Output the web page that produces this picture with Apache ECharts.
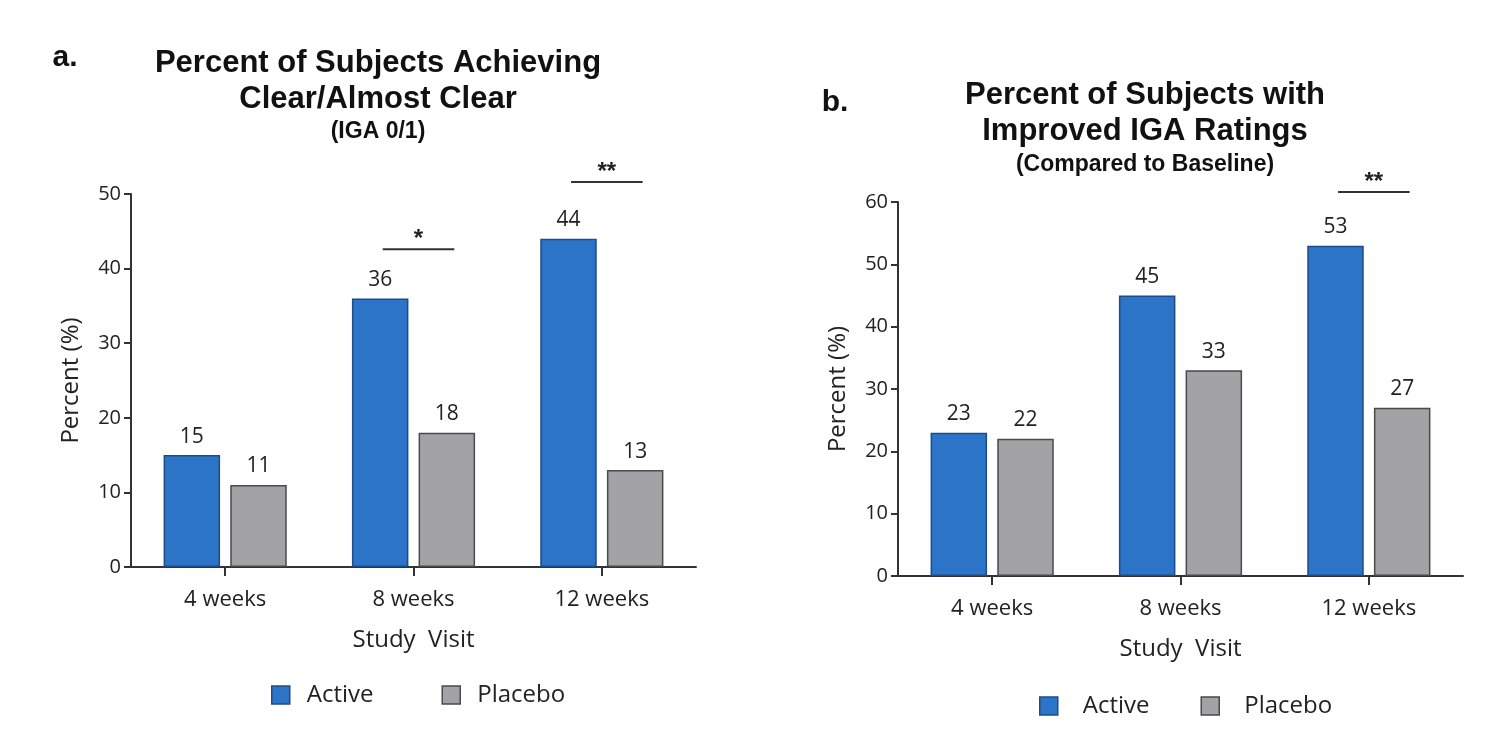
<!DOCTYPE html>
<html>
<head>
<meta charset="utf-8">
<script src="https://cdn.jsdelivr.net/npm/echarts@6/dist/echarts.min.js"></script>
<style>
html,body{margin:0;padding:0;background:#fff;}
#chart{width:1512px;height:750px;}
</style>
</head>
<body>
<div id="chart"></div>
<script>
// ---- data ----
const categories = ['4 weeks', '8 weeks', '12 weeks'];
const activeA = [15, 36, 44];
const placeboA = [11, 18, 13];
const activeB = [23, 45, 53];
const placeboB = [22, 33, 27];
const yTicksA = [0, 10, 20, 30, 40, 50];
const yTicksB = [0, 10, 20, 30, 40, 50, 60];
// significance brackets
const sigCatsA = [1, 2];
const sigLevelsA = [42.6, 51.6];
const sigMarksA = ['*', '**'];
const sigCatsB = [2];
const sigLevelsB = [61.6];
const sigMarksB = ['**'];

const BLUE = '#2b74c8', BLUE_B = '#1f4c86';
const GRAY = '#a3a3a7', GRAY_B = '#4a4a4a';
const AX = '#333333';
const LBL_FONT = '"Open Sans", "Noto Sans", sans-serif';
const TTL_FONT = '"Liberation Sans", Arial, sans-serif';

const chart = echarts.init(document.getElementById('chart'), null, {renderer: 'canvas'});

function yAxis(gridIndex, ticks) {
  return {
    type: 'value', gridIndex: gridIndex,
    min: ticks[0], max: ticks[ticks.length - 1], interval: ticks[1] - ticks[0],
    name: 'Percent (%)', nameLocation: 'middle', nameGap: 48, nameRotate: 90,
    nameTextStyle: {fontFamily: LBL_FONT, fontSize: 24, color: '#222'},
    axisLine: {show: true, lineStyle: {color: AX, width: 2}},
    axisTick: {show: true, length: 7, lineStyle: {color: AX, width: 2}},
    axisLabel: {fontFamily: LBL_FONT, fontSize: 20, color: '#222', margin: 10},
    splitLine: {show: false}
  };
}
function xAxis(gridIndex) {
  return {
    type: 'category', gridIndex: gridIndex, data: categories,
    name: 'Study  Visit', nameLocation: 'middle', nameGap: 61,
    nameTextStyle: {fontFamily: LBL_FONT, fontSize: 24, color: '#222'},
    axisLine: {show: true, lineStyle: {color: AX, width: 2}},
    axisTick: {show: true, alignWithLabel: true, length: 9, lineStyle: {color: AX, width: 2}},
    axisLabel: {fontFamily: LBL_FONT, fontSize: 22, color: '#222', margin: 22},
    splitLine: {show: false}
  };
}
function barSeries(name, data, idx, color, border) {
  return {
    type: 'bar', name: name, data: data, xAxisIndex: idx, yAxisIndex: idx,
    barWidth: '30%', barGap: '18%',
    itemStyle: {color: color, borderColor: border, borderWidth: 1.5},
    label: {show: true, position: 'top', distance: 8, fontFamily: LBL_FONT, fontSize: 21, color: '#222'},
    emphasis: {disabled: true}
  };
}
function sigSeries(idx, cats, levels, marks) {
  return {
    type: 'custom', xAxisIndex: idx, yAxisIndex: idx, clip: false,
    data: cats.map((c, i) => [c, levels[i]]),
    renderItem: function (params, api) {
      const c = api.coord([api.value(0), api.value(1)]);
      const band = api.size([1, 0])[0];
      const half = band * 0.19;
      const cx = c[0] + 5;
      return {
        type: 'group',
        children: [
          {type: 'line', shape: {x1: cx - half, y1: c[1], x2: cx + half, y2: c[1]},
           style: {stroke: AX, lineWidth: 2}},
          {type: 'text', style: {text: marks[params.dataIndex], x: cx, y: c[1] + 2,
           textAlign: 'center', textVerticalAlign: 'bottom',
           font: 'bold 24px ' + TTL_FONT, fill: '#222'}}
        ]
      };
    }
  };
}
function txt(x, y, text, size, weight) {
  return {type: 'text', x: x, y: y,
    style: {text: text, x: 0, y: 0, textAlign: 'center', textVerticalAlign: 'middle',
      font: (weight || 'bold') + ' ' + size + 'px ' + TTL_FONT, fill: '#111'}};
}

const option = {
  backgroundColor: '#ffffff',
  animation: false,
  grid: [
    {left: 131, top: 194, width: 565, height: 373, containLabel: false},
    {left: 898, top: 202, width: 565, height: 374, containLabel: false}
  ],
  xAxis: [xAxis(0), xAxis(1)],
  yAxis: [yAxis(0, yTicksA), yAxis(1, yTicksB)],
  legend: [
    {left: 271, top: 683, padding: 0, itemWidth: 18, itemHeight: 18, itemGap: 68, icon: 'rect',
     data: ['Active', 'Placebo'], selectedMode: false,
     itemStyle: {borderWidth: 1.5},
     textStyle: {fontFamily: LBL_FONT, fontSize: 24, color: '#222', padding: [0, 0, 0, 12]}},
    {left: 1039, top: 694, padding: 0, itemWidth: 18, itemHeight: 18, itemGap: 51, icon: 'rect',
     data: ['Active', 'Placebo'], selectedMode: false,
     itemStyle: {borderWidth: 1.5},
     textStyle: {fontFamily: LBL_FONT, fontSize: 24, color: '#222', padding: [0, 0, 0, 20]}}
  ],
  graphic: [
    txt(65, 58, 'a.', 30),
    txt(378, 63, 'Percent of Subjects Achieving', 31),
    txt(378, 99, 'Clear/Almost Clear', 31),
    txt(378, 132, '(IGA 0/1)', 23),
    txt(835, 103, 'b.', 30),
    txt(1145, 95, 'Percent of Subjects with', 31),
    txt(1145, 131, 'Improved IGA Ratings', 31),
    txt(1145, 165, '(Compared to Baseline)', 23)
  ],
  series: [
    barSeries('Active', activeA, 0, BLUE, BLUE_B),
    barSeries('Placebo', placeboA, 0, GRAY, GRAY_B),
    barSeries('Active', activeB, 1, BLUE, BLUE_B),
    barSeries('Placebo', placeboB, 1, GRAY, GRAY_B),
    sigSeries(0, sigCatsA, sigLevelsA, sigMarksA),
    sigSeries(1, sigCatsB, sigLevelsB, sigMarksB)
  ]
};
chart.setOption(option);
</script>
</body>
</html>
